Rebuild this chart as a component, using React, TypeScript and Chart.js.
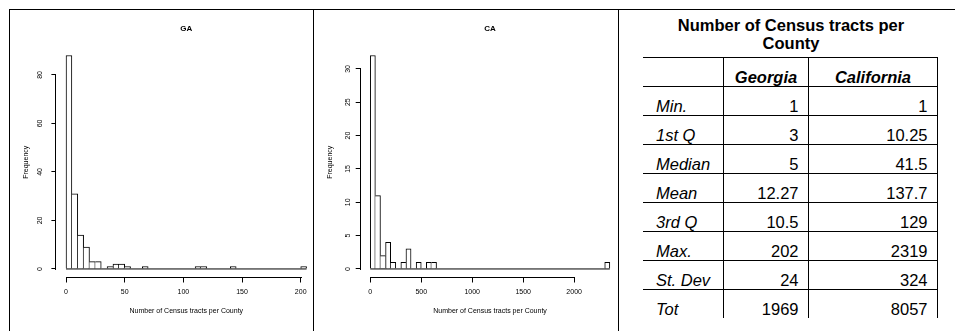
import React, { useEffect, useRef } from "react";
import { Chart, registerables } from "chart.js";

Chart.register(...registerables);

const FONT = "'Liberation Sans', Arial, Helvetica, sans-serif";

// ---- Georgia histogram ----
const GA_TITLE = "GA";
const GA_BIN_START = 0;
const GA_BIN_WIDTH = 5;
const GA_COUNTS = [
  88, 31, 14, 9, 3, 3, 0, 1, 2, 2, 1, 0, 0, 1, 0, 0, 0, 0, 0, 0, 0, 0, 1, 1, 0,
  0, 0, 0, 1, 0, 0, 0, 0, 0, 0, 0, 0, 0, 0, 0, 1,
];
const GA_X_TICKS = [0, 50, 100, 150, 200];
const GA_Y_TICKS = [0, 20, 40, 60, 80];

// ---- California histogram ----
const CA_TITLE = "CA";
const CA_BIN_START = 0;
const CA_BIN_WIDTH = 50;
const CA_COUNTS = [
  32, 11, 2, 4, 1, 0, 1, 3, 0, 1, 0, 1, 1, 0, 0, 0, 0, 0, 0, 0, 0, 0, 0, 0, 0,
  0, 0, 0, 0, 0, 0, 0, 0, 0, 0, 0, 0, 0, 0, 0, 0, 0, 0, 0, 0, 0, 1,
];
const CA_X_TICKS = [0, 500, 1000, 1500, 2000];
const CA_Y_TICKS = [0, 5, 10, 15, 20, 25, 30];

const X_AXIS_TITLE = "Number of Census tracts per County";
const Y_AXIS_TITLE = "Frequency";

// ---- Summary table ----
const TABLE_TITLE = "Number of Census tracts per County";
const TABLE_COLUMNS = ["Georgia", "California"];
const STAT_LABELS = ["Min.", "1st Q", "Median", "Mean", "3rd Q", "Max.", "St. Dev", "Tot"];
const GEORGIA_STATS = ["1", "3", "5", "12.27", "10.5", "202", "24", "1969"];
const CALIFORNIA_STATS = ["1", "10.25", "41.5", "137.7", "129", "2319", "324", "8057"];

const CANVAS_H = 331;

type HistProps = {
  title: string;
  counts: number[];
  binStart: number;
  binWidth: number;
  xTicks: number[];
  yTicks: number[];
  left: number;
  width: number;
  yAxisWidth: number;
  padRight: number;
  yTitlePad: number;
  yTickPad: number;
};

const rAxisLines = {
  id: "rAxisLines",
  afterDraw(chart: any) {
    const { ctx, chartArea, scales } = chart;
    const xs = scales.x;
    const ys = scales.y;
    ctx.save();
    ctx.strokeStyle = "#000";
    ctx.lineWidth = 1;
    ctx.beginPath();
    const yLine = Math.floor(chartArea.bottom) + 0.5;
    const xa = Math.round(xs.getPixelForValue(xs.ticks[0].value));
    const xb = Math.round(xs.getPixelForValue(xs.ticks[xs.ticks.length - 1].value));
    ctx.moveTo(xa, yLine);
    ctx.lineTo(xb + 1, yLine);
    const xLine = Math.round(chartArea.left) - 0.5;
    const ya = Math.round(ys.getPixelForValue(ys.ticks[0].value));
    const yb = Math.round(ys.getPixelForValue(ys.ticks[ys.ticks.length - 1].value));
    ctx.moveTo(xLine, ya + 1);
    ctx.lineTo(xLine, yb);
    ctx.stroke();
    ctx.restore();
  },
};

function Histogram(p: HistProps) {
  const ref = useRef<HTMLCanvasElement | null>(null);
  useEffect(() => {
    const canvas = ref.current;
    if (!canvas) return;
    const n = p.counts.length;
    const xLo = p.binStart;
    const xHi = p.binStart + n * p.binWidth;
    const xExt = (xHi - xLo) * 0.04;
    const yMax = Math.max(...p.counts);
    const yExt = yMax * 0.04;
    const counts = p.counts;
    const barData = counts.map((c, i) => ({ x: p.binStart + (i + 0.5) * p.binWidth, y: c }));

    const chart = new Chart(canvas, {
      type: "bar",
      data: {
        datasets: [
          {
            type: "line",
            data: [
              { x: xLo, y: 0 },
              { x: xHi, y: 0 },
            ],
            borderColor: "#000",
            borderWidth: 1,
            pointRadius: 0,
            fill: false,
          } as any,
          {
            type: "bar",
            data: barData,
            backgroundColor: "#fff",
            borderColor: "#000",
            borderSkipped: "start",
            barPercentage: 1,
            categoryPercentage: 1,
            borderWidth: (ctx: any) => {
              const i = ctx.dataIndex;
              if (i === undefined) return 1;
              const h = counts[i];
              const left = i === 0 || counts[i - 1] < h ? 1 : 0;
              const right = i === counts.length - 1 || counts[i + 1] <= h ? 1 : 0;
              return { top: 1, left, right, bottom: 0 };
            },
          } as any,
        ],
      },
      options: {
        responsive: false,
        animation: false,
        events: [],
        layout: { padding: { left: 0, right: p.padRight, top: 0, bottom: 0 } },
        plugins: {
          legend: { display: false },
          tooltip: { enabled: false },
          title: {
            display: true,
            text: p.title,
            color: "#000",
            fullSize: false,
            font: { family: FONT, size: 8, weight: "bold" },
            padding: { top: 24.2, bottom: 13.2 },
          },
        },
        scales: {
          x: {
            type: "linear",
            offset: false,
            min: xLo - xExt,
            max: xHi + xExt,
            afterBuildTicks: (s: any) => {
              s.ticks = p.xTicks.map((v) => ({ value: v }));
            },
            afterFit: (s: any) => {
              s.height = CANVAS_H - 277.5;
            },
            border: { display: false },
            grid: {
              display: true,
              offset: false,
              drawOnChartArea: false,
              drawTicks: true,
              tickLength: 5,
              color: "#000",
              tickColor: "#000",
              lineWidth: 1,
            },
            ticks: {
              autoSkip: false,
              maxRotation: 0,
              minRotation: 0,
              padding: 5.8,
              color: "#000",
              font: { family: FONT, size: 7 },
              callback: (v: any) => String(v),
            },
            title: {
              display: true,
              text: X_AXIS_TITLE,
              color: "#000",
              font: { family: FONT, size: 7 },
              padding: { top: 0, bottom: 15.3 },
            },
          },
          y: {
            type: "linear",
            offset: false,
            min: -yExt,
            max: yMax + yExt,
            afterBuildTicks: (s: any) => {
              s.ticks = p.yTicks.map((v) => ({ value: v }));
            },
            afterFit: (s: any) => {
              s.width = p.yAxisWidth;
            },
            border: { display: false },
            grid: {
              display: true,
              drawOnChartArea: false,
              drawTicks: true,
              tickLength: 5,
              color: "#000",
              tickColor: "#000",
              lineWidth: 1,
            },
            ticks: {
              autoSkip: false,
              minRotation: 90,
              maxRotation: 90,
              crossAlign: "center",
              padding: p.yTickPad,
              color: "#000",
              font: { family: FONT, size: 7 },
              callback: (v: any) => String(v),
            },
            title: {
              display: true,
              text: Y_AXIS_TITLE,
              color: "#000",
              font: { family: FONT, size: 7 },
              padding: { top: p.yTitlePad, bottom: 0 },
            },
          },
        },
      } as any,
      plugins: [rAxisLines],
    });
    return () => chart.destroy();
  }, []);
  return (
    <canvas
      ref={ref}
      width={p.width}
      height={CANVAS_H}
      style={{ position: "absolute", left: p.left, top: 0, width: p.width, height: CANVAS_H }}
    />
  );
}

const lineStyle = (left: number, top: number, width: number, height: number): React.CSSProperties => ({
  position: "absolute",
  left,
  top,
  width,
  height,
  background: "#000",
});

export default function App() {
  const cellBase: React.CSSProperties = {
    borderTop: "1px solid #000",
    padding: 0,
    verticalAlign: "bottom",
    lineHeight: "16.5px",
    paddingBottom: 1,
    boxSizing: "border-box",
  };
  return (
    <div
      style={{
        position: "absolute",
        left: 0,
        top: 0,
        width: 955,
        height: 331,
        overflow: "hidden",
        background: "#fff",
        fontFamily: FONT,
      }}
    >
      <Histogram
        title={GA_TITLE}
        counts={GA_COUNTS}
        binStart={GA_BIN_START}
        binWidth={GA_BIN_WIDTH}
        xTicks={GA_X_TICKS}
        yTicks={GA_Y_TICKS}
        left={0}
        width={320}
        yAxisWidth={56.4}
        padRight={3.8}
        yTitlePad={22.3}
        yTickPad={7.5}
      />
      <Histogram
        title={CA_TITLE}
        counts={CA_COUNTS}
        binStart={CA_BIN_START}
        binWidth={CA_BIN_WIDTH}
        xTicks={CA_X_TICKS}
        yTicks={CA_Y_TICKS}
        left={314}
        width={310}
        yAxisWidth={46.7}
        padRight={4.6}
        yTitlePad={11.5}
        yTickPad={3.3}
      />
      <div
        style={{
          position: "absolute",
          left: 661,
          top: 16,
          width: 260,
          textAlign: "center",
          fontWeight: "bold",
          fontSize: 16.5,
          lineHeight: "18px",
          color: "#000",
        }}
      >
        {TABLE_TITLE}
      </div>
      <table
        style={{
          position: "absolute",
          left: 643,
          top: 57,
          width: 295,
          borderCollapse: "separate",
          borderSpacing: 0,
          tableLayout: "fixed",
          fontSize: 16.5,
          color: "#000",
        }}
      >
        <colgroup>
          <col style={{ width: 80 }} />
          <col style={{ width: 85 }} />
          <col style={{ width: 130 }} />
        </colgroup>
        <thead>
          <tr style={{ height: 29 }}>
            <th style={{ ...cellBase }}></th>
            {TABLE_COLUMNS.map((c, i) => (
              <th
                key={c}
                style={{
                  ...cellBase,
                  borderLeft: "1px solid #000",
                  borderRight: i === TABLE_COLUMNS.length - 1 ? "1px solid #000" : undefined,
                  textAlign: "center",
                  fontStyle: "italic",
                  fontWeight: "bold",
                }}
              >
                {c}
              </th>
            ))}
          </tr>
        </thead>
        <tbody>
          {STAT_LABELS.map((label, r) => (
            <tr key={label} style={{ height: 29 }}>
              <td style={{ ...cellBase, fontStyle: "italic", paddingLeft: 13 }}>{label}</td>
              <td style={{ ...cellBase, borderLeft: "1px solid #000", textAlign: "right", paddingRight: 9.5 }}>
                {GEORGIA_STATS[r]}
              </td>
              <td
                style={{
                  ...cellBase,
                  borderLeft: "1px solid #000",
                  borderRight: "1px solid #000",
                  textAlign: "right",
                  paddingRight: 9.5,
                }}
              >
                {CALIFORNIA_STATS[r]}
              </td>
            </tr>
          ))}
        </tbody>
      </table>
      <div style={lineStyle(9, 9, 946, 1)} />
      <div style={lineStyle(9, 9, 1, 322)} />
      <div style={lineStyle(313, 9, 1, 322)} />
      <div style={lineStyle(618, 9, 1, 322)} />
    </div>
  );
}
